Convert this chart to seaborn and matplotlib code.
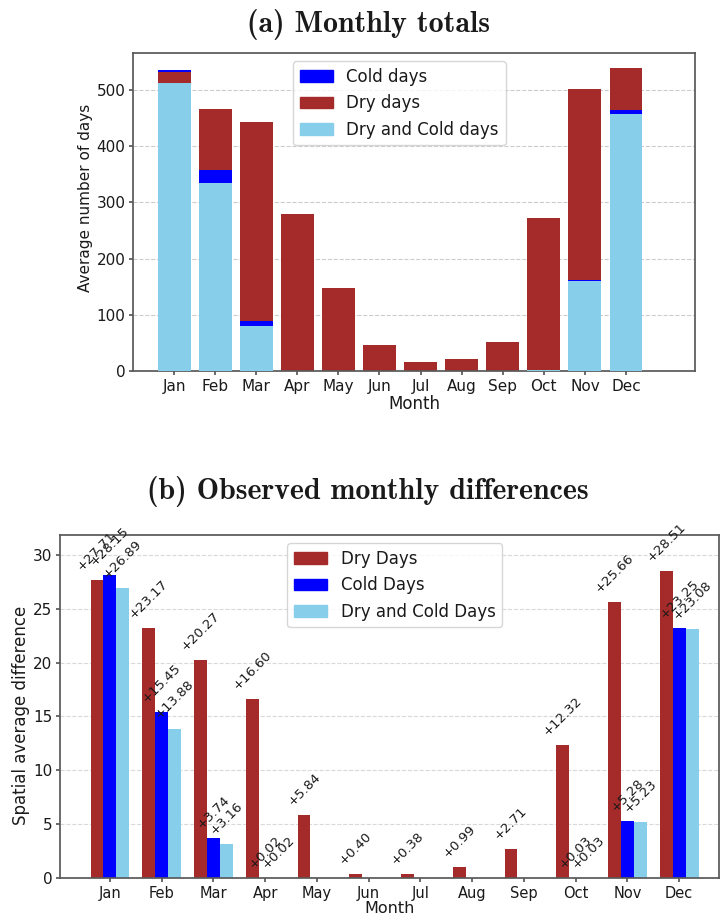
import os
import numpy as np
import pandas as pd
import matplotlib
matplotlib.use("Agg")
import matplotlib.pyplot as plt
from matplotlib.patches import Patch
from matplotlib.font_manager import FontProperties
import seaborn as sns

months = ["Jan", "Feb", "Mar", "Apr", "May", "Jun", "Jul", "Aug", "Sep", "Oct", "Nov", "Dec"]

# (a) Monthly totals (average number of days)
cold_total = [536, 358, 89, 0.3, 0, 0, 0, 0, 0, 2.5, 162, 464]
dry_total = [532, 467, 444, 279, 148, 46, 16, 21, 51, 272, 502, 539]
dry_cold_total = [512, 334, 80, 0.2, 0, 0, 0, 0, 0, 2, 161, 457]

# (b) Observed monthly differences
dry_diff = [27.71, 23.17, 20.27, 16.60, 5.84, 0.40, 0.38, 0.99, 2.71, 12.32, 25.66, 28.51]
cold_diff = [28.15, 15.45, 3.74, 0.02, 0, 0, 0, 0, 0, 0.03, 5.28, 23.25]
dry_cold_diff = [26.89, 13.88, 3.16, 0.02, 0, 0, 0, 0, 0, 0.03, 5.23, 23.08]

sns.set_theme(style="ticks")
plt.rcParams["font.family"] = ["DejaVu Sans"]
plt.rcParams["axes.edgecolor"] = "0.35"
plt.rcParams["text.color"] = "0.1"
plt.rcParams["xtick.color"] = "0.35"
plt.rcParams["ytick.color"] = "0.35"
plt.rcParams["xtick.labelcolor"] = "0.1"
plt.rcParams["ytick.labelcolor"] = "0.1"
plt.rcParams["axes.labelcolor"] = "0.1"
plt.rcParams["xtick.major.size"] = 3
plt.rcParams["ytick.major.size"] = 3
plt.rcParams["xtick.major.pad"] = 2.5
plt.rcParams["ytick.major.pad"] = 2.5

title_font = FontProperties(fname=os.path.join(matplotlib.get_data_path(), "fonts", "ttf", "cmb10.ttf"),
                            size=21.5)

W, H = 720, 917
fig = plt.figure(figsize=(W / 100, H / 100), dpi=100)
ax1 = fig.add_axes([133 / W, 1 - 371 / H, 562 / W, 318 / H])
ax2 = fig.add_axes([60 / W, 1 - 878 / H, 659 / W, 343 / H])

# ---------- panel (a) ----------
df1 = pd.DataFrame({"Month": months, "Cold": cold_total, "Dry": dry_total, "DC": dry_cold_total})
sns.barplot(data=df1, x="Month", y="Cold", color="blue", saturation=1, width=0.8,
            errorbar=None, ax=ax1)
sns.barplot(data=df1, x="Month", y="Dry", color="brown", saturation=1, width=0.8,
            errorbar=None, ax=ax1)
sns.barplot(data=df1, x="Month", y="DC", color="skyblue", saturation=1, width=0.8,
            errorbar=None, ax=ax1)
n = len(months)
pats = ax1.patches
for i in range(n):
    pc, pd_, pdc = pats[i], pats[n + i], pats[2 * n + i]
    if cold_total[i] > dry_total[i]:
        pc.set_zorder(2); pd_.set_zorder(3)
    else:
        pc.set_zorder(3); pd_.set_zorder(2)
    pdc.set_zorder(4)
    for p in (pc, pd_, pdc):
        p.set_edgecolor("none")

ax1.set_xlim(-1.0, 12.68)
ax1.set_ylim(0, 566)
ax1.set_yticks([0, 100, 200, 300, 400, 500])
ax1.set_axisbelow(True)
ax1.yaxis.grid(True, linestyle="--", color="0.8", linewidth=0.8)
ax1.set_xlabel("Month", fontsize=12, labelpad=1)
ax1.set_ylabel("Average number of days", fontsize=11)
ax1.yaxis.set_label_coords(-0.072, 0.544)
ax1.tick_params(labelsize=11)
h1 = [Patch(color="blue"), Patch(color="brown"), Patch(color="skyblue")]
ax1.legend(h1, ["Cold days", "Dry days", "Dry and Cold days"], loc="upper center",
           bbox_to_anchor=(0.474, 1.0), fontsize=12, framealpha=0.8)

# ---------- panel (b) ----------
df2 = pd.DataFrame({
    "Month": months * 3,
    "Value": dry_diff + cold_diff + dry_cold_diff,
    "Type": ["Dry Days"] * n + ["Cold Days"] * n + ["Dry and Cold Days"] * n,
})
hue_order = ["Dry Days", "Cold Days", "Dry and Cold Days"]
pal = {"Dry Days": "brown", "Cold Days": "blue", "Dry and Cold Days": "skyblue"}
sns.barplot(data=df2, x="Month", y="Value", hue="Type", hue_order=hue_order, palette=pal,
            saturation=1, width=0.75, errorbar=None, ax=ax2, legend=False)
for p in ax2.patches:
    p.set_edgecolor("none")
for cont in ax2.containers:
    for bar in cont:
        v = bar.get_height()
        if v > 0:
            ax2.annotate(f"+{v:.2f}", (bar.get_x() + bar.get_width() / 2, v),
                         xytext=(0, 5), textcoords="offset points", ha="center", va="bottom",
                         rotation=45, fontsize=9.5, color="0.1")

ax2.set_xlim(-0.965, 11.77)
ax2.set_ylim(0, 31.85)
ax2.set_yticks([0, 5, 10, 15, 20, 25, 30])
ax2.set_axisbelow(True)
ax2.yaxis.grid(True, linestyle="--", color="0.85", linewidth=0.8)
ax2.set_xlabel("Month", fontsize=11.5, labelpad=0)
ax2.set_ylabel("Spatial average difference", fontsize=12)
ax2.yaxis.set_label_coords(-0.046, 0.475)
ax2.tick_params(labelsize=11)
ax2.tick_params(axis="x", labelsize=10.5)
h2 = [Patch(color="brown"), Patch(color="blue"), Patch(color="skyblue")]
ax2.legend(h2, hue_order, loc="upper center", bbox_to_anchor=(0.508, 1.0),
           fontsize=12, framealpha=0.8)

# ---------- titles ----------
fig.text(369 / W, 1 - 32 / H, "(a) Monthly totals", ha="center",
         va="baseline", fontproperties=title_font)
fig.text(368 / W, 1 - 499 / H, "(b) Observed monthly differences",
         ha="center", va="baseline", fontproperties=title_font)

fig.savefig("out.png", dpi=100)
